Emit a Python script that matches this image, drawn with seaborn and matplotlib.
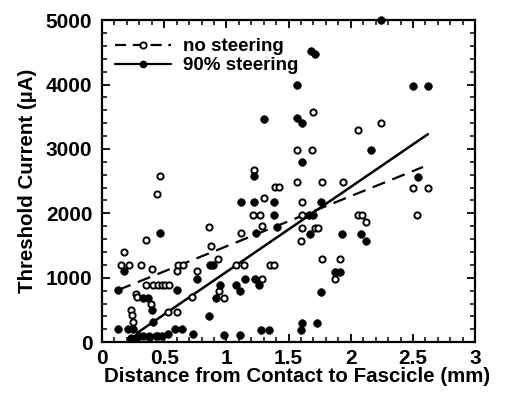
import numpy as np
import pandas as pd
import matplotlib
matplotlib.use("Agg")
import matplotlib.pyplot as plt
from matplotlib.lines import Line2D
from matplotlib.ticker import MultipleLocator
import seaborn as sns

# ---- data ----
no_steer_x = [0.47, 0.44, 1.22, 1.70, 2.06, 2.24, 1.57, 1.69, 1.57, 1.77, 1.94, 2.50, 2.62,
              2.53, 1.61, 1.61, 1.61, 1.71, 1.74, 1.60, 2.06, 2.09, 2.12, 1.77, 1.91, 1.87,
              1.39, 1.42, 1.30, 1.21, 1.27, 0.86, 1.29, 1.12, 0.88, 0.93, 0.15, 0.22, 0.31,
              0.40, 0.61, 0.65, 1.08, 1.14, 1.35, 1.38, 0.76, 0.35, 0.18, 0.35, 0.41, 0.45,
              0.48, 0.51, 0.54, 0.27, 0.28, 0.39, 0.23, 0.24, 0.25, 0.53, 0.60, 0.72, 0.94,
              0.98, 1.29, 0.60, 0.30, 0.38, 0.45]
no_steer_y = [2580, 2300, 2680, 3570, 3290, 3400, 2980, 2980, 2485, 2485, 2485, 2390, 2390,
              1970, 2175, 1970, 1770, 1780, 1780, 1570, 1970, 1970, 1860, 1290, 1290, 980,
              2410, 2410, 2240, 1970, 1970, 1790, 1800, 1700, 1490, 1290, 1200, 1200, 1200,
              1130, 1200, 1200, 1200, 1200, 1200, 1200, 1100, 1580, 1400, 885, 885, 885,
              885, 885, 885, 745, 700, 590, 500, 420, 310, 465, 465, 700, 790,
              680, 980, 1100, 100, 100, 100]

steer_x = [1.22, 1.30, 1.57, 1.68, 1.71, 2.24, 2.50, 2.62, 1.57, 1.61, 1.61, 2.16, 2.54,
           1.76, 1.66, 1.70, 1.67, 1.93, 2.08, 2.12, 1.87, 1.91, 1.76, 1.61, 1.60, 1.73,
           1.12, 1.22, 1.38, 1.38, 1.41, 1.24, 0.47, 0.18, 0.87, 0.89, 0.13, 0.60, 0.33,
           0.37, 0.40, 0.13, 0.21, 0.25, 0.41, 0.53, 0.59, 0.64, 0.73, 0.76, 0.95, 1.08,
           1.15, 1.11, 0.92, 1.23, 1.26, 0.86, 0.98, 1.11, 1.28, 1.34, 0.28, 0.33, 0.38,
           0.43, 0.48, 0.23]
steer_y = [2580, 3460, 3990, 4520, 4480, 5000, 3975, 3975, 3480, 3400, 2800, 2980, 2560,
           2175, 1970, 1970, 1680, 1680, 1680, 1570, 1090, 1090, 775, 295, 185, 295,
           2175, 2175, 2175, 1970, 1790, 1700, 1690, 1100, 1200, 1200, 810, 810, 690,
           690, 500, 200, 200, 200, 310, 120, 200, 200, 125, 980, 885, 885,
           980, 790, 680, 980, 885, 400, 110, 110, 185, 185, 80, 90, 80,
           100, 90, 60]

# fitted lines (endpoints)
fit_no_x = [0.13, 2.58]
fit_no_y = [810, 2720]
fit_st_x = [0.28, 2.62]
fit_st_y = [140, 3230]

labels = ["no steering", "90% steering"]

# ---- figure ----
sns.set_theme(style="white")
plt.rcParams["font.family"] = ["Liberation Sans", "DejaVu Sans"]
plt.rcParams["font.weight"] = "bold"
plt.rcParams["text.color"] = "black"
plt.rcParams["axes.labelcolor"] = "black"
plt.rcParams["xtick.color"] = "black"
plt.rcParams["ytick.color"] = "black"

fig = plt.figure(figsize=(5.05, 3.96), dpi=100)
ax = fig.add_axes([0.202, 0.136, 0.739, 0.813])

df_no = pd.DataFrame({"x": no_steer_x, "y": no_steer_y})
df_st = pd.DataFrame({"x": steer_x, "y": steer_y})

sns.lineplot(x=fit_no_x, y=fit_no_y, ax=ax, color="black", linewidth=1.6,
             dashes=False, linestyle=(0, (6, 3.5)))
sns.lineplot(x=fit_st_x, y=fit_st_y, ax=ax, color="black", linewidth=1.8)

sns.scatterplot(data=df_no, x="x", y="y", ax=ax, marker="o", s=20,
                facecolor="white", edgecolor="black", linewidth=1.4, zorder=3,
                clip_on=False)
sns.scatterplot(data=df_st, x="x", y="y", ax=ax, marker="o", s=30,
                color="black", edgecolor="black", linewidth=0.5, zorder=4,
                clip_on=False)

ax.set_xlim(0, 3)
ax.set_ylim(0, 5000)
ax.xaxis.set_major_locator(MultipleLocator(0.5))
ax.xaxis.set_minor_locator(MultipleLocator(0.1))
ax.yaxis.set_major_locator(MultipleLocator(1000))
ax.yaxis.set_minor_locator(MultipleLocator(200))
ax.set_xticks([0, 0.5, 1, 1.5, 2, 2.5, 3])
ax.set_xticklabels(["0", "0.5", "1", "1.5", "2", "2.5", "3"])

ax.tick_params(which="both", direction="in", top=True, right=True,
               bottom=True, left=True, colors="black", labelcolor="black")
ax.tick_params(which="major", length=6, width=1.3, labelsize=15)
ax.tick_params(axis="x", which="major", pad=5)
ax.tick_params(axis="y", which="major", pad=7)
ax.tick_params(which="minor", length=3.5, width=1.1)
for lab in ax.get_xticklabels() + ax.get_yticklabels():
    lab.set_fontweight("bold")

for sp in ax.spines.values():
    sp.set_color("black")
    sp.set_linewidth(1.6)

ax.set_xlabel("Distance from Contact to Fascicle (mm)", fontsize=14.8,
              fontweight="bold", labelpad=-1, color="black")
ax.xaxis.label.set_x(0.522)
ax.set_ylabel("Threshold Current (\u00b5A)", fontsize=14.8, fontweight="bold",
              labelpad=6, color="black")

handles = [
    Line2D([], [], color="black", linestyle=(0, (5, 3)), linewidth=1.6, marker="o",
           markerfacecolor="white", markeredgecolor="black", markersize=4.5,
           markeredgewidth=1.3),
    Line2D([], [], color="black", linestyle="-", linewidth=1.6, marker="o",
           markerfacecolor="black", markeredgecolor="black", markersize=4.5),
]
leg = ax.legend(handles, labels, loc="upper left", frameon=False,
                prop={"size": 13.5, "weight": "bold"}, handlelength=3.0,
                handletextpad=0.6, labelspacing=0.1, borderaxespad=0.3,
                bbox_to_anchor=(0.0, 0.985), numpoints=1, labelcolor="black")

fig.savefig("out.png", dpi=100)
